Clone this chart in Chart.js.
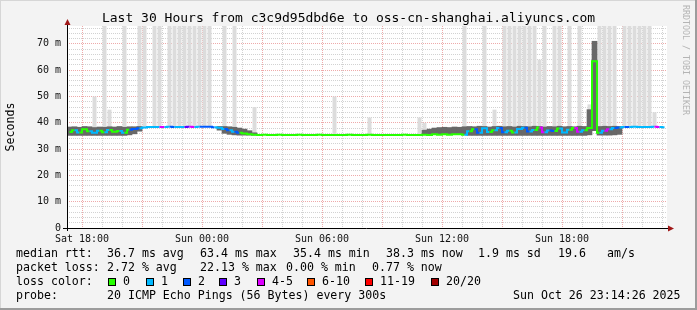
<!DOCTYPE html>
<html>
<head>
<meta charset="utf-8">
<script src="https://cdn.jsdelivr.net/npm/chart.js@4"></script>
<style>
  html, body { margin: 0; padding: 0; background: #f3f3f3; }
</style>
</head>
<body>
<canvas id="chart" width="697" height="310"></canvas>
<script>
// smokeping style graph, 15 min bins, x in hours relative to Sat 18:00
const binStart = -0.75;
const binHours = 0.25;

const lossColors = ['#26ff00', '#00b8ff', '#0059ff', '#5e00ff', '#dd00ff', '#ff5500', '#ff0000', '#a10000'];
const lossLabels = ['0', '1', '2', '3', '4-5', '6-10', '11-19', '20/20'];

const xTickHours = [0, 6, 12, 18, 24];
const xTickLabels = ['Sat 18:00', 'Sun 00:00', 'Sun 06:00', 'Sun 12:00', 'Sun 18:00'];
const yTickValues = [0, 10, 20, 30, 40, 50, 60, 70];
const yTickLabels = ['0', '10 m', '20 m', '30 m', '40 m', '50 m', '60 m', '70 m'];

// median rtt (ms)
const median = [
  36.5, 37.2, 36.3, 37.5, 36.8, 36.2, 37.0, 36.4, 37.3, 36.6,
  36.9, 36.2, 37.4, 37.6, 37.9, 38.2, 38.4, 38.4, 38.4, 38.4,
  38.5, 38.4, 38.4, 38.4, 38.5, 38.4, 38.5, 38.5, 38.5, 38.3,
  38.1, 37.6, 37.2, 36.6, 36.2, 35.9, 35.6, 35.5, 35.4, 35.5,
  35.4, 35.4, 35.5, 35.4, 35.4, 35.4, 35.5, 35.4, 35.4, 35.4,
  35.5, 35.4, 35.4, 35.4, 35.4, 35.4, 35.5, 35.4, 35.4, 35.4,
  35.5, 35.4, 35.4, 35.4, 35.4, 35.4, 35.4, 35.5, 35.4, 35.4,
  35.4, 35.5, 35.4, 35.6, 35.5, 35.6, 35.5, 35.6, 35.6, 35.5,
  36.8, 37.5, 36.2, 37.9, 36.5, 37.2, 38.0, 36.4, 37.0, 36.3,
  37.6, 38.1, 36.7, 37.3, 38.2, 36.4, 37.1, 36.9, 37.8, 36.3,
  37.4, 38.0, 36.6, 37.2, 38.0, 63.4, 36.2, 37.0, 37.5, 38.0,
  38.2, 38.4, 38.4, 38.5, 38.4, 38.4, 38.4, 38.5, 38.4, 38.3
];

// index into lossColors
const loss = [
  0, 1, 0, 0, 1, 1, 0, 1, 0, 0,
  1, 0, 2, 2, 1, 1, 1, 1, 4, 1,
  2, 1, 1, 3, 4, 1, 2, 2, 2, 1,
  1, 2, 1, 2, 0, 0, 0, 0, 0, 0,
  0, 0, 0, 0, 0, 0, 0, 0, 0, 0,
  0, 0, 0, 0, 0, 0, 0, 0, 0, 0,
  0, 0, 0, 0, 0, 0, 0, 0, 0, 0,
  0, 0, 0, 0, 0, 0, 0, 0, 0, 1,
  0, 2, 1, 1, 0, 1, 2, 1, 0, 1,
  1, 2, 1, 0, 4, 1, 2, 0, 1, 1,
  0, 4, 1, 0, 0, 0, 1, 4, 1, 2,
  1, 2, 1, 1, 1, 1, 1, 4, 1, 1
];

// dark smoke band
const smokeLow = [
  35.2, 35.2, 35.2, 35.2, 35.2, 35.2, 35.2, 35.2, 35.2, 35.2,
  35.2, 35.2, 35.4, 35.8, 36.8, null, null, null, null, null,
  null, null, null, null, null, null, null, null, null, null,
  37.2, 36.0, 35.6, 35.4, 35.3, 35.3, 35.3, 35.3, null, null,
  null, null, null, null, null, null, null, null, null, null,
  null, null, null, null, null, null, null, null, null, null,
  null, null, null, null, null, null, null, null, null, null,
  null, 35.5, 35.5, 35.5, 35.5, 35.5, 35.5, 35.5, 35.5, 35.4,
  35.2, 35.2, 35.2, 35.2, 35.2, 35.2, 35.2, 35.2, 35.2, 35.2,
  35.2, 35.2, 35.2, 35.2, 35.2, 35.2, 35.2, 35.2, 35.2, 35.2,
  35.2, 35.2, 35.2, 35.2, 35.4, 37.0, 35.3, 35.3, 35.3, 35.4,
  35.6, null, null, null, null, null, null, null, null, null
];
const smokeHigh = [
  38.4, 38.5, 38.3, 38.6, 38.5, 38.2, 38.4, 38.3, 38.5, 38.4,
  38.6, 38.3, 38.5, 38.5, 38.6, null, null, null, null, null,
  null, null, null, null, null, null, null, null, null, null,
  38.6, 38.6, 38.5, 38.3, 38.0, 37.6, 37.0, 36.2, null, null,
  null, null, null, null, null, null, null, null, null, null,
  null, null, null, null, null, null, null, null, null, null,
  null, null, null, null, null, null, null, null, null, null,
  null, 37.2, 37.6, 38.0, 38.2, 38.3, 38.2, 38.4, 38.3, 38.5,
  38.6, 38.5, 38.7, 38.6, 38.4, 38.6, 38.7, 38.5, 38.6, 38.4,
  38.7, 38.6, 38.5, 38.7, 38.6, 38.4, 38.6, 38.5, 38.7, 38.5,
  38.6, 38.5, 38.7, 38.6, 45.0, 71.0, 38.6, 38.7, 38.6, 38.7,
  38.6, null, null, null, null, null, null, null, null, null
];

// highest ping per bin (light smoke)
const pingMax = [
  null, null, null, null, null, 50, null, 77, 45, null,
  null, 77, null, null, 77, 77, null, 77, 77, null,
  77, 77, 77, 77, 77, 77, 77, 77, 77, null,
  null, 77, null, 77, null, null, null, 46, null, null,
  null, null, null, null, null, null, null, null, null, null,
  null, null, null, 50, null, null, null, null, null, null,
  42, null, null, null, null, null, null, null, null, null,
  42, 40, null, null, null, null, null, null, null, 77,
  null, null, null, 77, null, 45, null, 77, 77, 77,
  77, 77, 77, 77, 64, 77, null, 77, 77, null,
  77, null, 77, null, 47, null, 77, 77, 77, 77,
  null, 77, 77, 77, 77, 77, 77, 44, null, null
];

const mono = 'DejaVu Sans Mono';
const gridMinor = '#d2d2d2';
const gridMajor = '#eeaaaa';

function binX(i) {
  return binStart + binHours * (i + 0.5);
}
function linePoints(vals) {
  return vals.map((v, i) => ({ x: binX(i), y: v }));
}
function rangePoints(lo, hi) {
  return lo.map((v, i) => ({ x: binX(i), y: (v == null || hi[i] == null) ? null : [v, hi[i]] }));
}

const frame = {
  id: 'frame',
  beforeDraw(chart) {
    const c = chart.ctx, a = chart.chartArea;
    c.save();
    c.fillStyle = '#f3f3f3';
    c.fillRect(0, 0, chart.width, chart.height);
    c.fillStyle = '#ffffff';
    c.fillRect(a.left, a.top, a.right - a.left, a.bottom - a.top);
    c.restore();
  },
  afterDraw(chart) {
    const c = chart.ctx, a = chart.chartArea;
    c.save();
    // axes
    c.strokeStyle = '#000';
    c.lineWidth = 1;
    c.beginPath();
    c.moveTo(a.left - 4, a.bottom + 0.5);
    c.lineTo(a.right + 3, a.bottom + 0.5);
    c.moveTo(a.left + 0.5, a.bottom + 3);
    c.lineTo(a.left + 0.5, a.top - 3);
    c.stroke();
    c.fillStyle = '#a01818';
    c.beginPath();
    c.moveTo(a.left + 0.5, a.top - 7);
    c.lineTo(a.left - 2.5, a.top - 1);
    c.lineTo(a.left + 3.5, a.top - 1);
    c.fill();
    c.beginPath();
    c.moveTo(a.right + 7, a.bottom + 0.5);
    c.lineTo(a.right + 1, a.bottom - 2.5);
    c.lineTo(a.right + 1, a.bottom + 3.5);
    c.fill();

    // title
    c.fillStyle = '#000';
    c.textBaseline = 'middle';
    c.textAlign = 'center';
    c.font = '13px "' + mono + '"';
    c.fillText('Last 30 Hours from c3c9d95dbd6e to oss-cn-shanghai.aliyuncs.com', 348.5, 19);

    // y title
    c.font = '11.6px "' + mono + '"';
    c.save();
    c.translate(11, 127);
    c.rotate(-Math.PI / 2);
    c.fillText('Seconds', 0, 0);
    c.restore();

    // watermark
    c.save();
    c.fillStyle = '#b4b4b4';
    c.font = '8.3px "' + mono + '"';
    c.textAlign = 'left';
    c.translate(685, 5);
    c.rotate(Math.PI / 2);
    c.fillText('RRDTOOL / TOBI OETIKER', 0, 0);
    c.restore();

    // legend
    c.textAlign = 'left';
    c.fillStyle = '#000';
    const rows = [
      [254, [[16, 'median rtt:'], [107, '36.7 ms avg'], [200, '63.4 ms max'], [293, '35.4 ms min'],
             [386, '38.3 ms now'], [478, '1.9 ms sd'], [558, '19.6'], [607, 'am/s']]],
      [268, [[16, 'packet loss:'], [107, '2.72 % avg'], [200, '22.13 % max'], [286, '0.00 % min'], [372, '0.77 % now']]],
      [282, [[16, 'loss color:']]],
      [296, [[16, 'probe:'], [107, '20 ICMP Echo Pings (56 Bytes) every 300s'], [513, 'Sun Oct 26 23:14:26 2025']]]
    ];
    rows.forEach(([y, items]) => items.forEach(([x, t]) => c.fillText(t, x, y)));

    const boxX = [108, 146, 183, 219, 257, 307, 365, 431];
    lossLabels.forEach((lab, i) => {
      c.fillStyle = lossColors[i];
      c.fillRect(boxX[i], 278, 8, 8);
      c.strokeStyle = '#000';
      c.strokeRect(boxX[i] + 0.5, 278.5, 7, 7);
      c.fillStyle = '#000';
      c.fillText(lab, boxX[i] + 15, 282);
    });

    // outer frame
    c.fillStyle = '#d6d6d6';
    c.fillRect(0, 0, chart.width, 1);
    c.fillRect(0, 0, 1, chart.height);
    c.fillStyle = '#9c9c9c';
    c.fillRect(chart.width - 2, 0, 2, chart.height);
    c.fillRect(0, chart.height - 2, chart.width, 2);
    c.restore();
  }
};

const barCommon = {
  grouped: false,
  categoryPercentage: 1,
  borderWidth: 0,
};

new Chart(document.getElementById('chart'), {
  type: 'bar',
  data: {
    datasets: [
      {
        type: 'line',
        data: linePoints(median),
        borderWidth: 2,
        pointRadius: 0,
        stepped: 'middle',
        borderColor: lossColors[0],
        borderCapStyle: 'butt',
        segment: {
          borderColor: ctx => lossColors[loss[ctx.p0DataIndex]],
        },
        order: 1,
      },
      Object.assign({ data: rangePoints(smokeLow, smokeHigh), backgroundColor: '#686868', barPercentage: 1, order: 2 }, barCommon),
      Object.assign({ data: rangePoints(median, pingMax), backgroundColor: '#dcdcdc', barPercentage: 0.8, order: 3 }, barCommon),
    ]
  },
  options: {
    responsive: false,
    animation: false,
    layout: { padding: { top: 26, right: 30, left: 0, bottom: 0 } },
    plugins: {
      legend: { display: false },
      tooltip: { enabled: false },
    },
    scales: {
      x: {
        type: 'linear',
        min: binStart,
        max: binStart + binHours * median.length,
        offset: false,
        z: 1,
        afterBuildTicks: s => {
          const t = [];
          for (let h = 0; h <= 29; h++) t.push({ value: h });
          s.ticks = t;
        },
        afterFit: s => { s.height = 82; },
        grid: {
          offset: false,
          drawTicks: false,
          lineWidth: 1,
          color: ctx => (ctx.tick && ctx.tick.value % 3 === 0) ? gridMajor : gridMinor,
          borderDash: [1, 1],
        },
        border: { display: false, dash: [1, 1] },
        ticks: {
          autoSkip: false,
          maxRotation: 0,
          padding: 5,
          color: '#111',
          font: { family: mono, size: 10 },
          callback: v => {
            const k = xTickHours.indexOf(v);
            return k >= 0 ? xTickLabels[k] : '';
          }
        }
      },
      y: {
        type: 'linear',
        min: 0,
        max: 76.8,
        z: 1,
        afterBuildTicks: s => {
          const t = [];
          for (let v = 0; v <= 76; v += 2) t.push({ value: v });
          s.ticks = t;
        },
        afterFit: s => { s.width = 67; },
        grid: {
          drawTicks: false,
          lineWidth: 1,
          color: ctx => (ctx.tick && ctx.tick.value % 10 === 0) ? gridMajor : gridMinor,
          borderDash: [1, 1],
        },
        border: { display: false, dash: [1, 1] },
        ticks: {
          autoSkip: false,
          padding: 6,
          color: '#111',
          font: { family: mono, size: 10 },
          callback: v => {
            const k = yTickValues.indexOf(v);
            return k >= 0 ? yTickLabels[k] : '';
          }
        }
      }
    }
  },
  plugins: [frame]
});
</script>
</body>
</html>
